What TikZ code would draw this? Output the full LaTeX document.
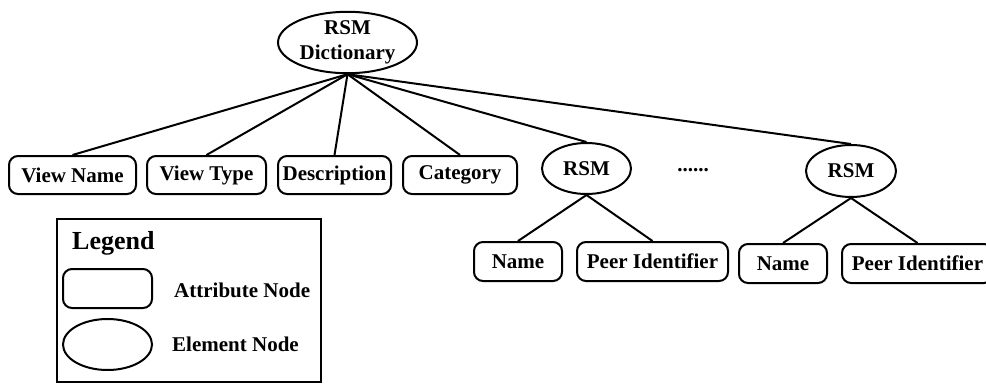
\documentclass[tikz,border=0pt]{standalone}
\usepackage{fontspec}
\setmainfont{Liberation Serif}
\usetikzlibrary{shapes.geometric}
\begin{document}
\begin{tikzpicture}[x=1pt,y=-1pt,
  every node/.style={font=\fontsize{21}{25}\selectfont\bfseries},
  attr/.style={draw,line width=2pt,rounded corners=9pt,inner sep=0pt,minimum height=38pt},
  elem/.style={draw,line width=2pt,ellipse,inner sep=0pt},
  conn/.style={line width=2pt}]
\useasboundingbox (0,0) rectangle (986,386);
% root
\node[elem,minimum width=139pt,minimum height=57pt,align=center] (root) at (347.5,42.5) {RSM\\Dictionary};
% attributes
\node[attr,minimum width=127pt] (vn) at (72.5,175) {View Name};
\node[attr,minimum width=119pt] (vt) at (206.5,175) {View Type};
\node[attr,minimum width=113pt] (desc) at (334.5,175) {Description};
\node[attr,minimum width=114pt] (cat) at (460,175) {Category};
% RSM elements
\node[elem,minimum width=89pt,minimum height=51pt] (rsma) at (586.5,168.5) {RSM};
\node[elem,minimum width=90pt,minimum height=52pt] (rsmb) at (851,171) {RSM};
\node (dots) at (693,170) {......};
% leaves
\node[attr,minimum width=88pt,minimum height=39pt] (namea) at (518,261.5) {Name};
\node[attr,minimum width=151pt,minimum height=39pt] (peera) at (652.5,261.5) {Peer Identifier};
\node[attr,minimum width=88pt,minimum height=39pt] (nameb) at (783,263.5) {Name};
\node[attr,minimum width=151pt,minimum height=39pt] (peerb) at (917.5,263.5) {Peer Identifier};
% connectors
\foreach \t in {vn,vt,desc,cat,rsma,rsmb} \draw[conn] (root.south) -- (\t.north);
\draw[conn] (rsma.south) -- (namea.north);
\draw[conn] (rsma.south) -- (peera.north);
\draw[conn] (rsmb.south) -- (nameb.north);
\draw[conn] (rsmb.south) -- (peerb.north);
% legend
\node[draw,line width=2pt,minimum width=264pt,minimum height=163pt,inner sep=0pt] (legend) at (189,300.5) {};
\node[font=\fontsize{26}{30}\selectfont\bfseries,anchor=west,inner sep=0pt] (legtitle) at (72,243) {Legend};
\node[attr,minimum width=89pt,minimum height=39pt] (legattr) at (107.5,288.5) {};
\node[anchor=west,inner sep=0pt] (legattrt) at (174,290) {Attribute Node};
\node[elem,minimum width=89pt,minimum height=51pt] (legelem) at (107.5,344.5) {};
\node[anchor=west,inner sep=0pt] (legelemt) at (172,344) {Element Node};
\end{tikzpicture}
\end{document}
